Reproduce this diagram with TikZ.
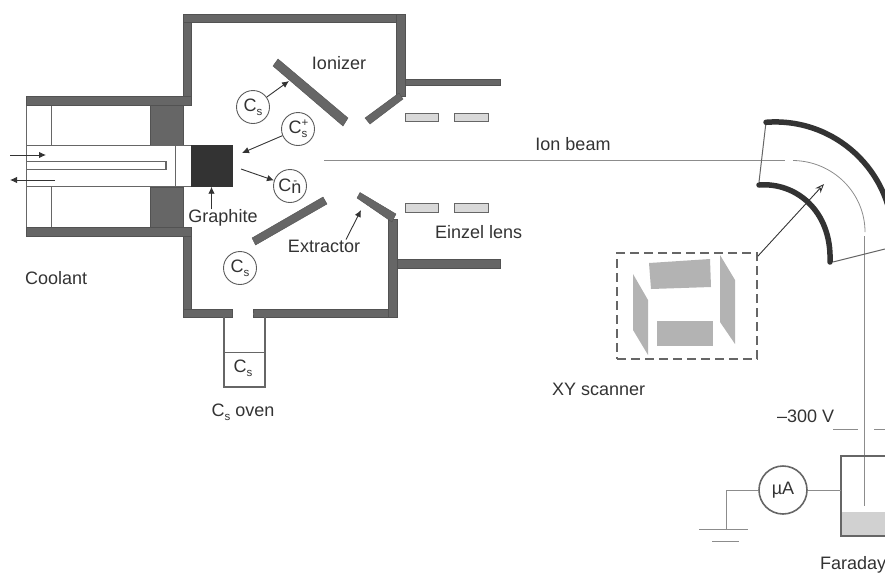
\documentclass[tikz,border=0pt]{standalone}
\usepackage{fontspec}
\setmainfont{Liberation Sans}
\usetikzlibrary{arrows.meta}
\definecolor{wall}{HTML}{666666}
\definecolor{ink}{HTML}{333333}
\definecolor{plate}{HTML}{B3B3B3}
\definecolor{thin}{HTML}{8C8C8C}
\newcommand{\subsz}{\fontsize{11.5}{12}\selectfont}
\newcommand{\Csub}{C\raisebox{-4pt}{\subsz s}}
\tikzset{
  lbl/.style={text=ink,font=\fontsize{18}{20}\selectfont,inner sep=0pt},
  wallpart/.style={fill=wall,draw=wall!80!black,line width=.4pt},
  ion/.style={circle,draw=ink!80,line width=.9pt,minimum size=33pt,inner sep=0pt,fill=white,text=ink,font=\fontsize{18}{20}\selectfont},
  arr/.style={draw=ink,line width=.9pt,-{Latex[length=7pt,width=6.5pt]}},
  edge/.style={draw=wall,line width=1pt},
  thinline/.style={draw=thin,line width=1pt},
  lens/.style={fill=black!15,draw=wall,line width=.8pt},
  scanplate/.style={fill=plate,draw=none},
  magnet/.style={draw=ink,line width=5.5pt,line cap=round}
}
\begin{document}
\begin{tikzpicture}[x=1pt,y=-1pt]
\useasboundingbox (0,0) rectangle (885,574);
\clip (0,0) rectangle (885,574);
% source housing
\fill[wallpart] (150,105) rectangle (183,145);
\fill[wallpart] (150,187) rectangle (183,227);
\draw[edge] (26,105) -- (26,227);
\draw[edge] (51,105) -- (51,145);
\draw[edge] (51,187) -- (51,227);
\draw[edge] (26,145) rectangle (191,186.5);
\draw[edge] (175,145) -- (175,186.5);
\draw[edge,line width=1.2pt] (26,161.5) -- (166,161.5) -- (166,169.5) -- (26,169.5);
\fill[wallpart] (26,96) rectangle (191,105);
\fill[wallpart] (26,227) rectangle (191,236);
% graphite
\node[fill=ink,draw=ink,minimum width=41pt,minimum height=41pt,inner sep=0pt] (graphite) at (211.5,166) {};
% chamber
\fill[wallpart] (183,14) rectangle (191.5,96);
\fill[wallpart] (183,14) rectangle (405,22.5);
\fill[wallpart] (396.5,14) rectangle (405,96);
\fill[wallpart] (405,79.5) rectangle (500,85.5);
\fill[wallpart] (365,118) -- (370,124) -- (403,99) -- (399,93) -- cycle;
\fill[wallpart] (273,66) -- (278,59) -- (348,118) -- (343,126) -- cycle;
\fill[wallpart] (183,236) rectangle (191.5,317);
\fill[wallpart] (183,309) rectangle (232,317);
\fill[wallpart] (253,309) rectangle (397,317);
\fill[wallpart] (388.5,219) rectangle (397,317);
\fill[wallpart] (397,259) rectangle (500,268);
\fill[wallpart] (357,198) -- (360,192.5) -- (396,214) -- (392,222) -- cycle;
\fill[wallpart] (252,238) -- (255.5,245) -- (327,204) -- (323,197) -- cycle;
% oven
\draw[draw=wall,line width=2pt] (232,313.5) -- (224,313.5) -- (224,387) -- (265,387) -- (265,313.5) -- (253,313.5);
\draw[edge] (224,352) -- (265,352);
\node[lbl] (ovenCs) at (243,368) {\Csub};
\node[lbl] (ovenLabel) at (243,412) {\Csub\ oven};
% einzel
\fill[lens] (405,113) rectangle (438,121);
\fill[lens] (454,113) rectangle (488,121);
\fill[lens] (405,203) rectangle (438,212);
\fill[lens] (454,203) rectangle (488,212);
% ions
\node[ion] (cs1) at (253,107) {\Csub};
\node[ion] (csp) at (298,129) {C\rlap{\raisebox{7pt}{\subsz +}}\raisebox{-4pt}{\subsz s}};
\node[ion] (cn) at (290,186) {C\rlap{\raisebox{7pt}{\hspace{2pt}\subsz -}}\raisebox{-2pt}{n}};
\node[ion] (cs2) at (240,268) {\Csub};
% labels
\node[lbl,anchor=west] (coolant) at (25,278) {Coolant};
\node[lbl] (graphiteLabel) at (223,218) {Graphite};
\node[lbl] (ionizer) at (339,63) {Ionizer};
\node[lbl] (extractor) at (324,246) {Extractor};
\node[lbl,anchor=west] (einzel) at (435,232) {Einzel lens};
\node[lbl] (ionbeam) at (573,144) {Ion beam};
\node[lbl,anchor=west] (xy) at (552,389) {XY scanner};
\node[lbl,anchor=west] (volt) at (777,416) {–300 V};
\node[lbl,anchor=west] (faraday) at (820,565) {Faraday};
% arrows
\coordinate (c1a) at (10,155); \coordinate (c1b) at (46,155);
\coordinate (c2a) at (55,180); \coordinate (c2b) at (10,180);
\draw[arr] (c1a) -- (c1b);
\draw[arr] (c2a) -- (c2b);
\draw[arr] (graphiteLabel.north -| graphite.south) -- (graphite.south);
\coordinate (ionizerHit) at (289,81);
\coordinate (graphiteHit) at (242,153);
\coordinate (graphiteOut) at (241,169);
\coordinate (extractorHit) at (361,210);
\draw[arr] (cs1) -- (ionizerHit);
\draw[arr] (csp) -- (graphiteHit);
\draw[arr] (graphiteOut) -- (cn);
\draw[arr] (extractor.north -| 346,0) -- (extractorHit);
% beam
\coordinate (beamStart) at (324,160.5);
\coordinate (beamEnd) at (785,160.5);
\coordinate (bendStart) at (793,160.5);
\coordinate (bendEnd) at (865,232);
\coordinate (cupEnd) at (864.5,506);
\draw[thinline] (beamStart) -- (beamEnd);
\draw[thinline,line width=.8pt] (bendStart) .. controls (833,161) and (865,193) .. (bendEnd);
\draw[thinline] (864.5,236) -- (cupEnd);
% magnet
\draw[edge] (766,122) -- (759,182);
\draw[edge] (833,262) -- (885,249);
\draw[magnet] (766,122.3) .. controls (834.5,117) and (893,171) .. (893,240);
\draw[magnet] (759,185) .. controls (795,182) and (832,210) .. (830,262);
% scanner
\node[draw=wall,line width=1.6pt,dash pattern=on 9pt off 5pt,minimum width=140pt,minimum height=106pt,inner sep=0pt] (scanner) at (687,306) {};
\fill[scanplate] (649,263) -- (710,259) -- (711,287) -- (651,289) -- cycle;
\fill[scanplate] (657,321) -- (713,321) -- (713,346) -- (657,346) -- cycle;
\fill[scanplate] (633,274) -- (648,300) -- (648,355) -- (633,330) -- cycle;
\fill[scanplate] (720,255) -- (735,280) -- (735,344) -- (720,322) -- cycle;
\coordinate (magnetHit) at (824,184);
\draw[draw=ink,line width=.9pt,-{Stealth[length=9pt,width=7pt,open,fill=white]}] (scanner.north east) ++(0,4) -- (magnetHit);
% cup
\fill[black!18] (842,512) rectangle (890,536);
\draw[draw=wall,line width=2pt] (890,456) -- (841,456) -- (841,536) -- (890,536);
\draw[thinline] (833,429) -- (858,429);
\draw[thinline] (874,429) -- (890,429);
\node[circle,draw=wall,line width=1.6pt,minimum size=48pt,inner sep=0pt,text=ink,font=\fontsize{18}{20}\selectfont] (meter) at (783,490) {µA};
\coordinate (gnd) at (726,529);
\coordinate (cupWall) at (841,490);
\draw[thinline] (meter) -- (cupWall);
\draw[thinline] (meter) -- (726,490) -- (gnd);
\draw[thinline] (699,529) -- (748,529);
\draw[thinline] (712,541) -- (739,541);
\end{tikzpicture}
\end{document}
